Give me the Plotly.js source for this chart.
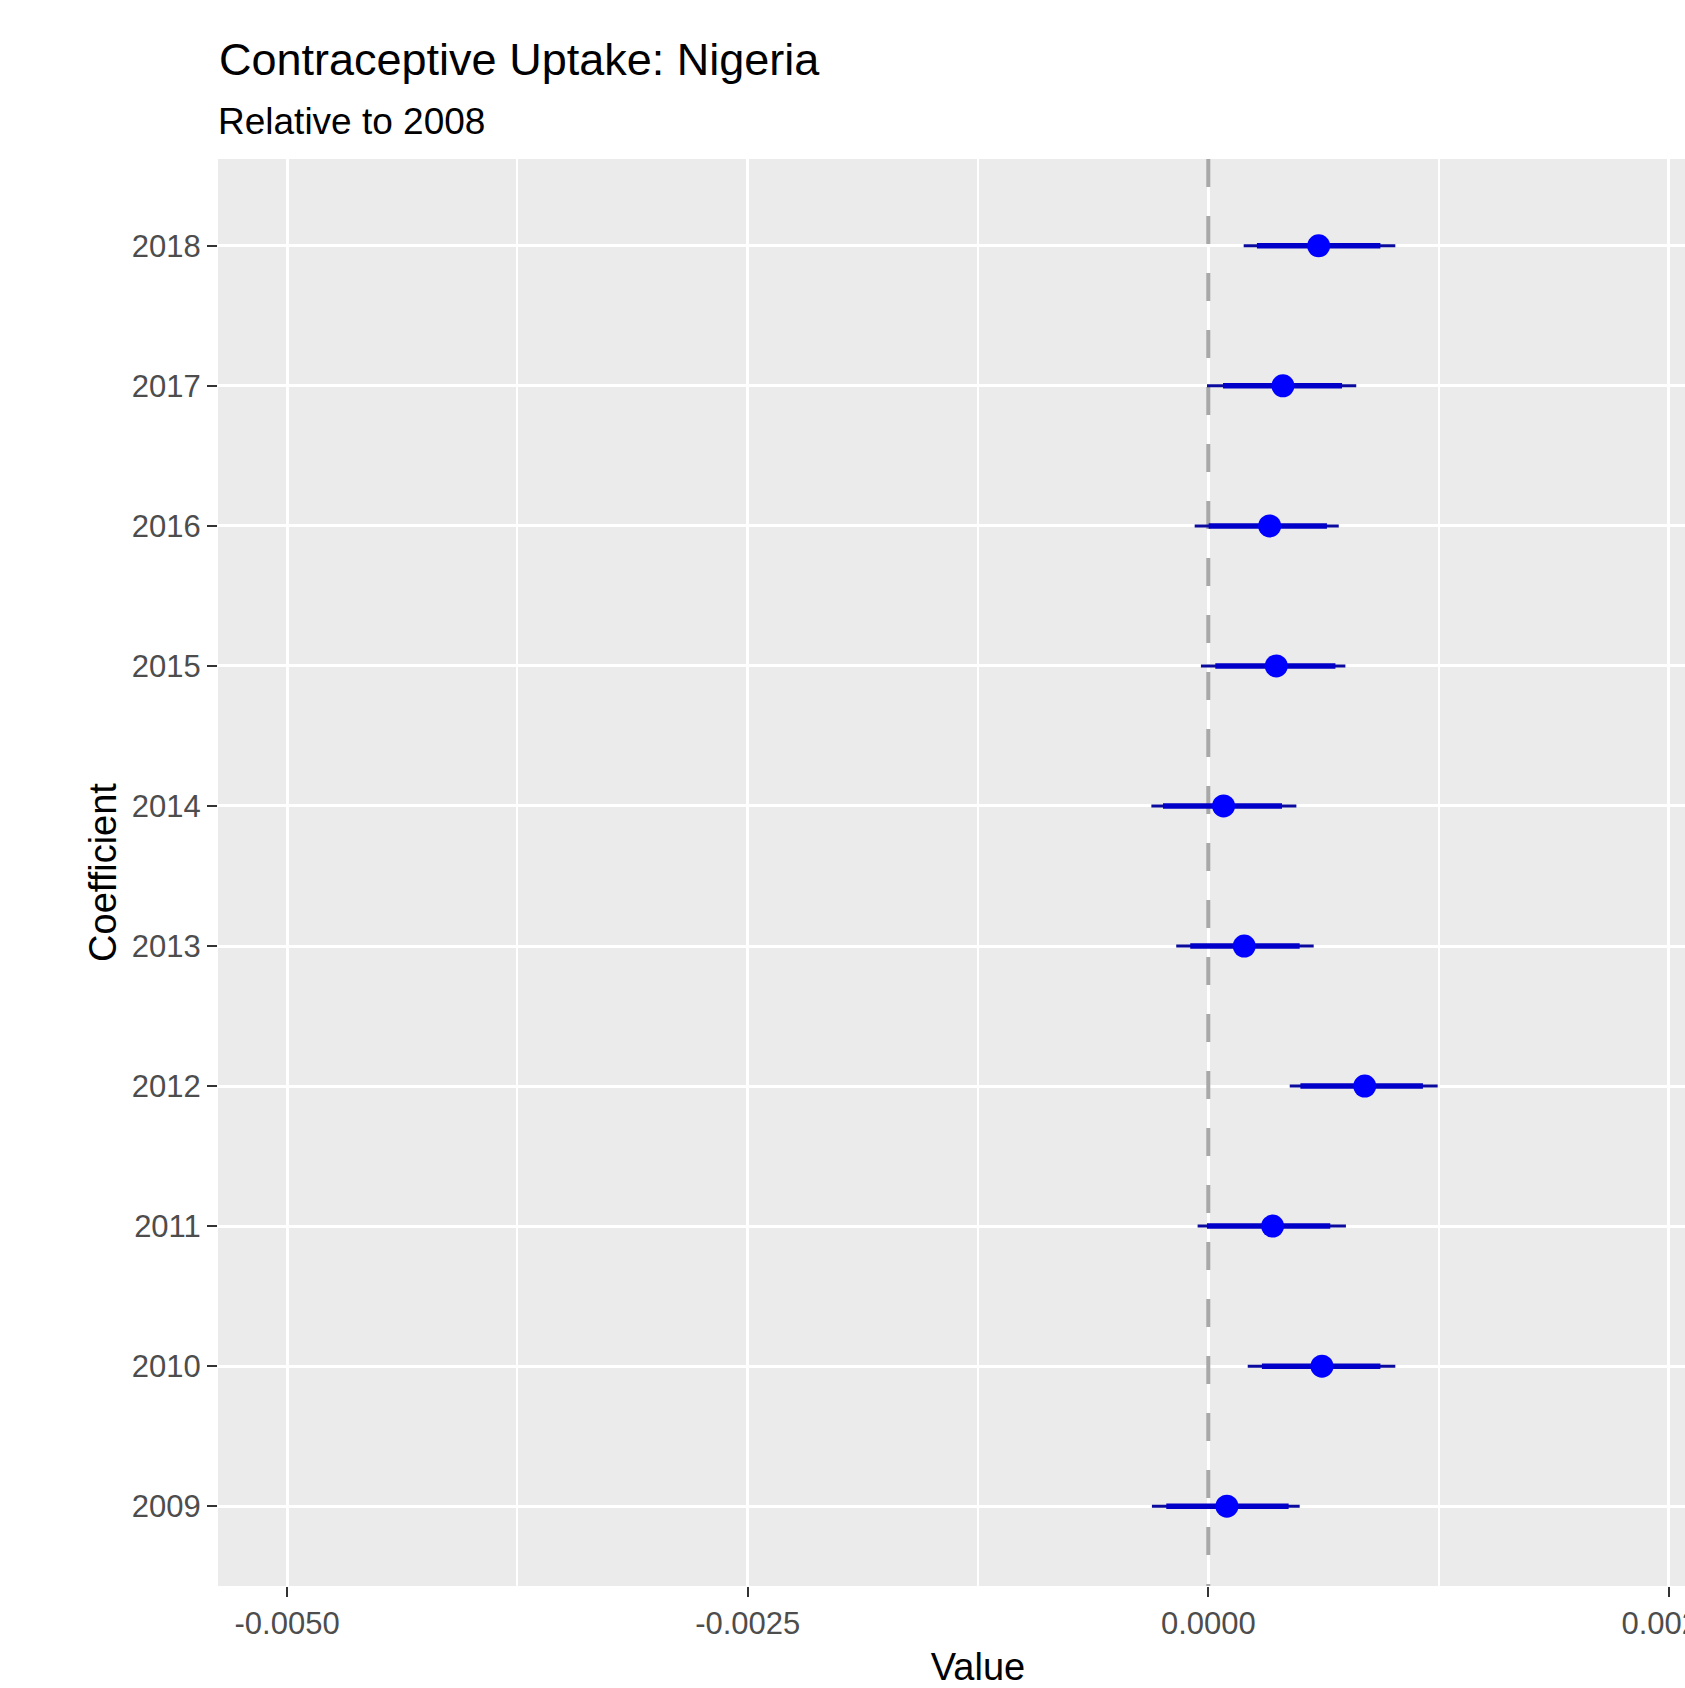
<!DOCTYPE html>
<html>
<head>
<meta charset="utf-8">
<script src="https://cdn.plot.ly/plotly-3.0.1.min.js"></script>
<style>
html, body { margin: 0; padding: 0; overflow: hidden; background: #ffffff; }
#chart { width: 1752px; height: 1688px; }
</style>
</head>
<body>
<div id="chart"></div>
<script>
// ---- data ----
const years      = [2018, 2017, 2016, 2015, 2014, 2013, 2012, 2011, 2010, 2009];
const estimate   = [0.000599, 0.000405, 0.000333, 0.000369, 0.000083, 0.000195, 0.000849, 0.000349, 0.000617, 0.000101];
const outerLow   = [0.000192, -0.000007, -0.000074, -0.000040, -0.000309, -0.000174, 0.000442, -0.000058, 0.000214, -0.000306];
const outerHigh  = [0.001015, 0.000803, 0.000708, 0.000744, 0.000478, 0.000572, 0.001245, 0.000747, 0.001015, 0.000496];
const innerLow   = [0.000264, 0.000080, 0.000002, 0.000038, -0.000246, -0.000098, 0.000500, -0.000007, 0.000291, -0.000228];
const innerHigh  = [0.000934, 0.000726, 0.000644, 0.000690, 0.000400, 0.000496, 0.001165, 0.000662, 0.000934, 0.000436];

const zeroValue  = 0;
const xRange     = [-0.005375, 0.002875];
const yRange     = [2008.43, 2018.62];
const xTickVals  = [-0.005, -0.0025, 0, 0.0025];
const xTickText  = ['-0.0050', '-0.0025', '0.0000', '0.0025'];
const xMinorVals = [-0.00375, -0.00125, 0.00125];
const yTickText  = years.map(String);

const titleText    = 'Contraceptive Uptake: Nigeria';
const subtitleText = 'Relative to 2008';

// ---- build segment arrays from the data ----
function segments(lo, hi) {
  const xs = [], ys = [];
  for (let i = 0; i < years.length; i++) {
    xs.push(lo[i], hi[i], null);
    ys.push(years[i], years[i], null);
  }
  return {xs, ys};
}
const outer = segments(outerLow, outerHigh);
const inner = segments(innerLow, innerHigh);

const FONT = 'Liberation Sans, Arial, Helvetica, sans-serif';
const W = 1752, H = 1688;

const traces = [
  {
    // zero reference line (dashed), drawn above grid, below estimates
    type: 'scatter', mode: 'lines', x: [zeroValue, zeroValue], y: [yRange[1], yRange[0]],
    line: {color: '#A8A8A8', width: 4, dash: '28px,29px'}, hoverinfo: 'skip', showlegend: false,
    cliponaxis: true
  },
  {
    type: 'scatter', mode: 'lines', x: outer.xs, y: outer.ys,
    line: {color: '#0A0A9E', width: 3}, hoverinfo: 'skip', showlegend: false
  },
  {
    type: 'scatter', mode: 'lines', x: inner.xs, y: inner.ys,
    line: {color: '#0000C8', width: 5.5}, hoverinfo: 'skip', showlegend: false
  },
  {
    type: 'scatter', mode: 'markers', x: estimate, y: years,
    marker: {color: '#0000FF', size: 23, line: {width: 0}}, showlegend: false
  }
];

const layout = {
  width: W, height: H,
  margin: {l: 218, r: 14, t: 159, b: 102},
  paper_bgcolor: '#FFFFFF',
  plot_bgcolor: '#EBEBEB',
  font: {family: FONT, color: '#000000'},
  showlegend: false,
  title: {
    text: titleText,
    font: {family: FONT, size: 45, color: '#000000'},
    xref: 'container', x: 219 / W, xanchor: 'left',
    yref: 'container', y: 1 - 59 / H, yanchor: 'middle'
  },
  annotations: [{
    text: subtitleText, showarrow: false,
    font: {family: FONT, size: 37, color: '#000000'},
    xref: 'paper', x: 0, xanchor: 'left',
    yref: 'paper', y: (1586 - 121) / 1427, yanchor: 'middle',
    xshift: -2
  }],
  xaxis: {
    range: xRange,
    tickmode: 'array', tickvals: xTickVals, ticktext: xTickText,
    tickfont: {family: FONT, size: 31, color: '#4D4D4D'},
    ticks: 'outside', ticklen: 10, tickwidth: 2, tickcolor: '#333333',
    showgrid: true, gridcolor: '#FFFFFF', gridwidth: 3,
    minor: {tickmode: 'array', tickvals: xMinorVals, showgrid: true, gridcolor: '#FFFFFF', gridwidth: 2, ticks: ''},
    zeroline: false, showline: false,
    title: {text: 'Value', font: {family: FONT, size: 38, color: '#000000'}, standoff: 16}
  },
  yaxis: {
    range: yRange,
    tickmode: 'array', tickvals: years, ticktext: yTickText,
    tickfont: {family: FONT, size: 31, color: '#4D4D4D'},
    ticks: 'outside', ticklen: 10, tickwidth: 2, tickcolor: '#333333',
    showgrid: true, gridcolor: '#FFFFFF', gridwidth: 3,
    zeroline: false, showline: false,
    title: {text: 'Coefficient', font: {family: FONT, size: 38, color: '#000000'}, standoff: 3}
  }
};

Plotly.newPlot('chart', traces, layout, {displayModeBar: false, staticPlot: true});
</script>
</body>
</html>
